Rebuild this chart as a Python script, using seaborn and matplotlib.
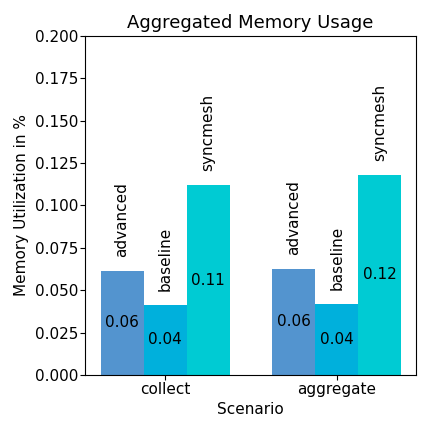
import matplotlib
matplotlib.use('Agg')
import matplotlib.pyplot as plt
import seaborn as sns
import pandas as pd

plt.rcParams['font.size'] = 11
plt.rcParams['xtick.major.pad'] = 1.5
plt.rcParams['ytick.major.pad'] = 1.5

# 数据
scenarios = ['collect', 'aggregate']
approaches = ['advanced', 'baseline', 'syncmesh']
advanced = [0.0614, 0.0625]
baseline = [0.0413, 0.0419]
syncmesh = [0.1120, 0.1180]

df = pd.DataFrame({
    'Scenario': scenarios * 3,
    'Approach': [a for a in approaches for _ in scenarios],
    'Memory': advanced + baseline + syncmesh,
})

palette = {'advanced': '#5394cf', 'baseline': '#00b0dc', 'syncmesh': '#00cbd3'}

fig, ax = plt.subplots(figsize=(4.32, 4.32), dpi=100)
sns.barplot(data=df, x='Scenario', y='Memory', hue='Approach', order=scenarios,
            hue_order=approaches, palette=palette, width=0.75, gap=0,
            saturation=1, errorbar=None, legend=False, ax=ax)

# 标签：柱内数值 + 柱顶名称
for container, name in zip(ax.containers, approaches):
    for bar in container:
        h = bar.get_height()
        cx = bar.get_x() + bar.get_width() / 2
        ax.text(cx, h / 2, f'{h:.2f}', ha='center', va='center', fontsize=11)
        ax.annotate(name, (cx, h), xytext=(0, 10), textcoords='offset points',
                    ha='center', va='bottom', rotation=90, fontsize=11)

ax.set_ylim(0, 0.2)
ax.set_xlim(-0.465, 1.46)
ax.set_xlabel('Scenario')
ax.set_ylabel('Memory Utilization in %')
ax.set_title('Aggregated Memory Usage', fontsize=13)

fig.subplots_adjust(left=0.197, right=0.963, top=0.917, bottom=0.132)
fig.savefig('out.png', dpi=100)
